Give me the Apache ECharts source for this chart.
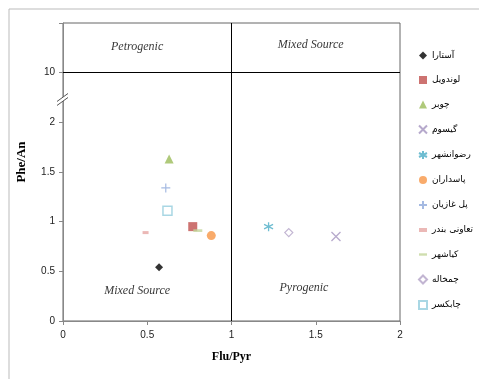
<!DOCTYPE html>
<html><head><meta charset="utf-8">
<script src="https://cdn.jsdelivr.net/npm/echarts@6/dist/echarts.min.js"></script>
<style>html,body{margin:0;padding:0;background:#fff}#c{width:479px;height:379px}</style>
</head><body><div id="c"></div>
<script>
// Site names (legend)
const names = ['آستارا','لوندویل','چوبر','گیسوم','رضوانشهر','پاسداران','پل غازیان','تعاونی بندر','کیاشهر','چمخاله','چابکسر'];
// Flu/Pyr values
const fluPyr = [0.57, 0.77, 0.63, 1.62, 1.22, 0.88, 0.61, 0.49, 0.80, 1.34, 0.62];
// Phe/An values
const pheAn  = [0.54, 0.95, 1.63, 0.85, 0.95, 0.86, 1.34, 0.89, 0.91, 0.89, 1.11];
// x tick labels
const xTicks = [0, 0.5, 1, 1.5, 2];
// y tick labels (broken axis: "10" drawn at the 2.5 slot)
const yTicks = ['0','0.5','1','1.5','2','10'];
const yBreakSlot = 2.5;
// Region labels [text, x, y]
const regions = [['Petrogenic',0.44,2.76],['Mixed Source',1.47,2.78],['Mixed Source',0.44,0.30],['Pyrogenic',1.43,0.33]];

const DASH_S = 'path://M0,0L6,0L6,3L0,3Z';
const DASH_L = 'path://M0,0L10,0L10,3L0,3Z';
const styles = [
  {symbol:'diamond', size:8, item:{color:'#000'}},
  {symbol:'rect', size:9, item:{color:'#C0504D'}},
  {symbol:'triangle', size:9, item:{color:'#9BBB59'}},
  {symbol:'path://M0,0L10,10M10,0L0,10', size:9, item:{color:'transparent',borderColor:'#A493BF',borderWidth:1.3}},
  {symbol:'path://M5,0L5,10M0,2.5L10,7.5M0,7.5L10,2.5', size:9, item:{color:'transparent',borderColor:'#4BACC6',borderWidth:1.3}},
  {symbol:'circle', size:9, item:{color:'#F79646'}},
  {symbol:'path://M5,0L5,10M0,5L10,5', size:9, item:{color:'transparent',borderColor:'#8EA9DB',borderWidth:1.2}},
  {symbol:DASH_S, size:6, item:{color:'#E6A6A4'}},
  {symbol:DASH_L, size:9, item:{color:'#C3D69B'}},
  {symbol:'diamond', size:8, item:{color:'#fff',borderColor:'#B3A2C7',borderWidth:1.2}},
  {symbol:'rect', size:9, item:{color:'#fff',borderColor:'#93CDDD',borderWidth:1.5}}
];

const series = names.map((n,i)=>({
  name:n, type:'scatter', symbol:styles[i].symbol, symbolSize:styles[i].size, symbolKeepAspect:true,
  itemStyle:styles[i].item, data:[[fluPyr[i], pheAn[i]]], z:3
}));
series.push({
  type:'scatter', symbolSize:0, silent:true, z:4,
  data: regions.map(r=>({value:[r[1],r[2]], name:r[0]})),
  label:{show:true, position:'inside', formatter:p=>p.name, fontFamily:'Liberation Serif', fontStyle:'italic', fontSize:12, color:'#000'},
  markLine:{silent:true, symbol:'none', label:{show:false}, lineStyle:{color:'#000',width:1,type:'solid'},
    data:[ [{coord:[1,0]},{coord:[1,3]}], [{coord:[0,yBreakSlot]},{coord:[2,yBreakSlot]}] ]}
});

const chart = echarts.init(document.getElementById('c'), null, {renderer:'canvas'});
chart.setOption({
  animation:false,
  grid:{left:63, right:79, top:23, bottom:58, show:true, borderColor:'#666', borderWidth:1},
  legend:{orient:'vertical', left:413, top:46, itemGap:15.5, itemWidth:8, itemHeight:8, symbolKeepAspect:true,
    textStyle:{fontFamily:'DejaVu Sans', fontSize:9, color:'#000'},
    data:names.map((n,i)=>{
      const s = styles[i].symbol;
      return (s===DASH_S||s===DASH_L) ? {name:n, icon:s} : n;
    })},
  xAxis:{type:'value', min:0, max:2, interval:0.5, name:'Flu/Pyr', nameLocation:'middle', nameGap:30,
    nameTextStyle:{fontFamily:'Liberation Serif', fontWeight:'bold', fontSize:12, color:'#000'},
    axisLine:{lineStyle:{color:'#888'}}, axisTick:{show:true, length:4, lineStyle:{color:'#888'}},
    splitLine:{show:false},
    axisLabel:{fontFamily:'Liberation Sans', fontSize:10, color:'#222', margin:9, formatter:v=>String(v)}},
  yAxis:{type:'value', min:0, max:3, interval:0.5,
    axisLine:{show:true, lineStyle:{color:'#888'}}, axisTick:{show:true, length:4, lineStyle:{color:'#888'}},
    splitLine:{show:false},
    axisLabel:{fontFamily:'Liberation Sans', fontSize:10, color:'#222', margin:8,
      formatter:v=>{const k=Math.round(v*2); return k<yTicks.length?yTicks[k]:'';}}},
  series:series
});

// Decorations: axis break mark, y-axis name, outer frame
const pA = chart.convertToPixel({gridIndex:0}, [0, 2.22]);
const ax = pA[0], ay = pA[1];
chart.setOption({graphic:[
  {type:'polygon', shape:{points:[[ax-6,ay+5],[ax+5,ay-3],[ax+5,ay-7],[ax-6,ay+1]]}, style:{fill:'#fff'}, z:10},
  {type:'line', shape:{x1:ax-6,y1:ay+1,x2:ax+5,y2:ay-7}, style:{stroke:'#555',lineWidth:1}, z:11},
  {type:'line', shape:{x1:ax-6,y1:ay+5,x2:ax+5,y2:ay-3}, style:{stroke:'#555',lineWidth:1}, z:11},
  {type:'text', x:22, y:162, rotation:Math.PI/2, style:{text:'Phe/An', font:'bold 13px "Liberation Serif"', fill:'#000', align:'center', verticalAlign:'middle'}},
  {type:'line', shape:{x1:9,y1:9,x2:479,y2:9}, style:{stroke:'#bbb',lineWidth:1}},
  {type:'line', shape:{x1:9,y1:9,x2:9,y2:379}, style:{stroke:'#bbb',lineWidth:1}}
]});
</script></body></html>
